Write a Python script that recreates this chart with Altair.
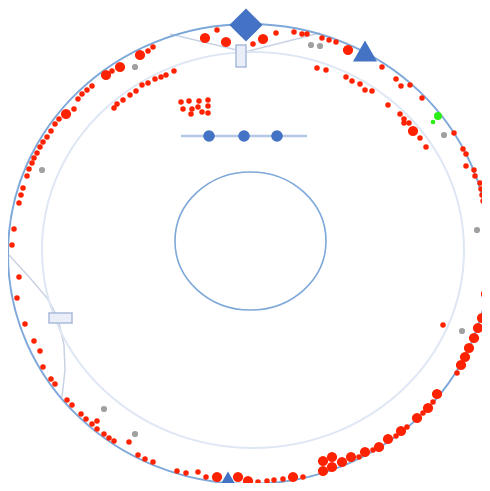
import altair as alt
import pandas as pd

# ---- data (page-pixel coordinates) ----
red_small_x = [153,148,112,92,87,82,78,74,59,55,51,47,43,40,37,34,32,29,27,23,21,19,14,12,
               174,166,161,155,148,142,136,130,123,117,114,
               217,253,276,294,302,307,322,329,336,317,326,
               346,352,360,365,372,388,400,404,409,404,420,426,
               382,396,401,410,422,454,463,466,466,474,475,480,481,482,483,
               489,457,443,
               433,423,407,396,373,359,303,283,274,267,258,206,198,186,177,153,145,138,
               19,17,25,34,40,43,51,55,67,72,81,86,92,97,97,104,109,114,129,
               181,189,199,208,183,192,198,208,191,202,208]
red_small_y = [47,51,71,86,90,94,99,109,119,124,131,137,142,147,153,158,163,169,176,188,195,203,229,245,
               71,75,77,79,83,85,91,95,100,104,108,
               30,44,33,32,34,34,38,40,42,68,70,
               77,81,84,90,91,105,114,119,123,123,138,147,
               67,79,86,85,98,133,149,154,166,170,176,183,189,195,201,
               281,373,325,
               402,413,427,436,450,457,477,479,480,481,482,477,472,473,471,462,459,455,
               277,298,324,341,351,367,379,384,400,405,414,419,424,421,429,434,438,441,442,
               102,101,101,100,109,109,107,106,114,112,113]
red_large_x = [140,120,106,66,205,226,263,348,413,
               489,489,489,489,489,489,489,486,482,478,474,469,465,461,
               437,428,417,401,388,379,365,351,342,332,332,323,323,293,248,238,217]
red_large_y = [55,67,75,114,38,42,39,50,131,
               222,229,236,243,250,257,264,294,318,328,338,348,357,365,
               394,408,418,431,439,447,452,457,462,457,467,461,471,477,481,477,477]
gray_x = [135,42,311,320,444,477,462,104,135]
gray_y = [67,170,45,46,135,230,331,409,434]
green_x = [438,433]
green_y = [116,122]
green_size = [64,22]

blue_dot_x = [209,244,277]
blue_dot_y = [136,136,136]
blue_line_x = [181,307]
blue_line_y = [136,136]

triangle_x = [365,228]
triangle_y = [51,482]
diamond_x = [246]
diamond_y = [25]

# ellipses: center x, center y, radius x, radius y
ell_names = ["outer", "inner", "center"]
ell_cx = [249, 253, 250.5]
ell_cy = [254, 250, 241]
ell_rx = [241, 211, 75.5]
ell_ry = [230, 198, 69]

rect_x = [236, 49]
rect_x2 = [246, 72]
rect_y = [45, 313]
rect_y2 = [67, 323]

faint_seg = ["a","a","b","b","c","c","c","c","c","c","c"]
faint_x = [170,245,245,320,9,30,47,58,64,65,62]
faint_y = [34,52,52,33,255,278,298,318,345,370,397]

# ---- helpers ----
X = alt.X("x:Q", scale=alt.Scale(domain=[8, 482]), axis=None)
Y = alt.Y("y:Q", scale=alt.Scale(domain=[8, 483], reverse=True), axis=None)


def ellipse_path(ratio):
    K = 0.5523
    r = ratio
    return (f"M 1 0 C 1 {K*r:.4f} {K} {r:.4f} 0 {r:.4f} "
            f"C {-K} {r:.4f} -1 {K*r:.4f} -1 0 "
            f"C -1 {-K*r:.4f} {-K} {-r:.4f} 0 {-r:.4f} "
            f"C {K} {-r:.4f} 1 {-K*r:.4f} 1 0 Z")


def ellipse_layer(i, color, width):
    df = pd.DataFrame({"x": [ell_cx[i]], "y": [ell_cy[i]]})
    return alt.Chart(df).mark_point(
        shape=ellipse_path(ell_ry[i] / ell_rx[i]), filled=False,
        stroke=color, strokeWidth=width, opacity=1,
        size=(2 * ell_rx[i]) ** 2,
    ).encode(x=X, y=Y)


faint_df = pd.DataFrame({"x": faint_x, "y": faint_y, "seg": faint_seg,
                         "o": list(range(len(faint_x)))})
faint = alt.Chart(faint_df).mark_line(color="#c3cde0", strokeWidth=1.5, opacity=0.9).encode(
    x=X, y=Y, detail="seg:N", order="o:Q")

inner = ellipse_layer(1, "#dfe7f4", 2)
outer = ellipse_layer(0, "#7ea8d9", 2)
center = ellipse_layer(2, "#7ea8d9", 1.6)

bline = alt.Chart(pd.DataFrame({"x": blue_line_x, "y": blue_line_y})).mark_line(
    color="#b4c7e7", strokeWidth=2.5).encode(x=X, y=Y)

rects = alt.Chart(pd.DataFrame({"x": rect_x, "x2": rect_x2, "y": rect_y, "y2": rect_y2})).mark_rect(
    fill="#e9eef8", stroke="#a9bbda", strokeWidth=1.5).encode(x=X, x2="x2:Q", y=Y, y2="y2:Q")

red_s = alt.Chart(pd.DataFrame({"x": red_small_x, "y": red_small_y})).mark_circle(
    color="#ff2200", size=30, opacity=1).encode(x=X, y=Y)
red_l = alt.Chart(pd.DataFrame({"x": red_large_x, "y": red_large_y})).mark_circle(
    color="#ff2200", size=105, opacity=1).encode(x=X, y=Y)
gray = alt.Chart(pd.DataFrame({"x": gray_x, "y": gray_y})).mark_circle(
    color="#a0a0a0", size=38, opacity=1).encode(x=X, y=Y)
green = alt.Chart(pd.DataFrame({"x": green_x, "y": green_y, "s": green_size})).mark_circle(
    color="#2bef16", opacity=1).encode(x=X, y=Y, size=alt.Size("s:Q", scale=None, legend=None))
bdots = alt.Chart(pd.DataFrame({"x": blue_dot_x, "y": blue_dot_y})).mark_circle(
    color="#4472c4", size=135, opacity=1).encode(x=X, y=Y)
tris = alt.Chart(pd.DataFrame({"x": triangle_x, "y": triangle_y})).mark_point(
    shape="triangle-up", filled=True, color="#4472c4", size=580, opacity=1).encode(x=X, y=Y)
diam = alt.Chart(pd.DataFrame({"x": diamond_x, "y": diamond_y})).mark_point(
    shape="diamond", filled=True, color="#4472c4", size=1100, opacity=1).encode(x=X, y=Y)

chart = alt.layer(faint, inner, outer, center, bline, rects, red_s, red_l, gray, green,
                  bdots, tris, diam).properties(
    width=474, height=475, padding=0, autosize=alt.AutoSizeParams(type="none")
).configure_view(stroke=None)

chart.save("out.html", embed_options={"renderer": "svg", "actions": False})
